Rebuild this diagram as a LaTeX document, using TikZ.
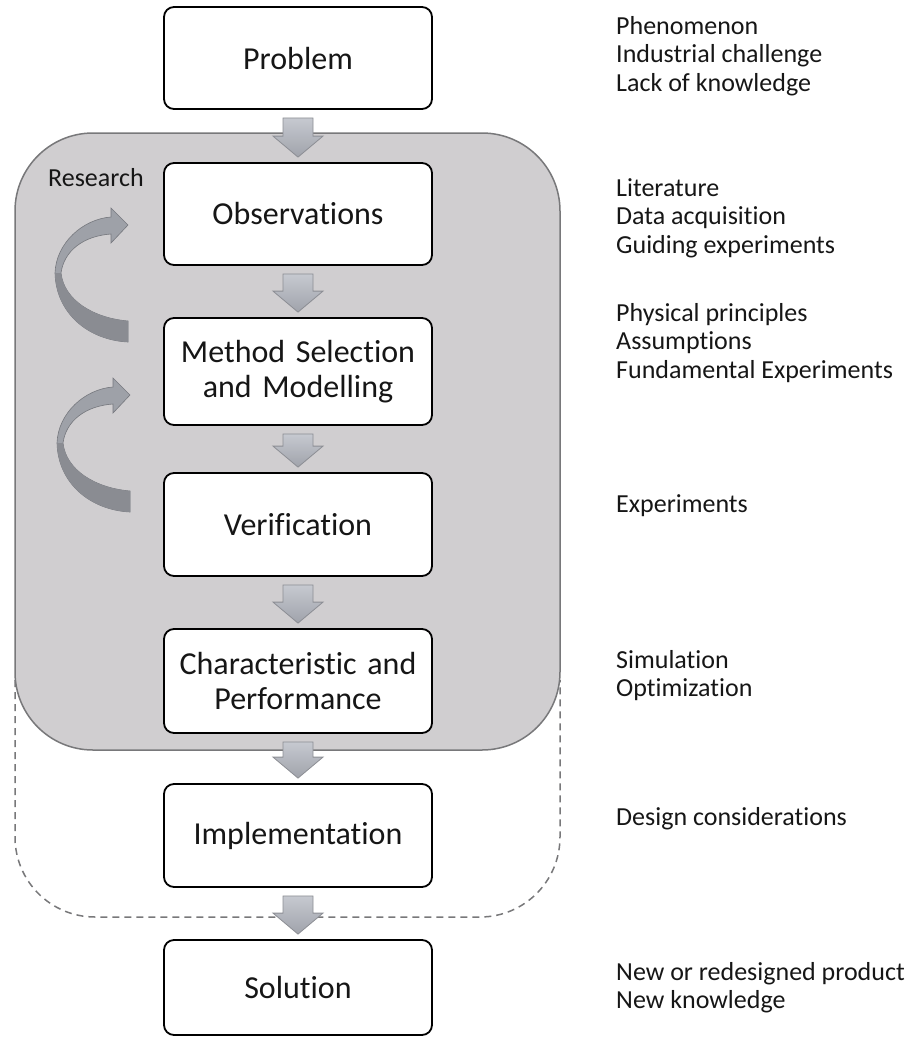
\documentclass[tikz,border=0pt]{standalone}
\usepackage{fontspec}
\setmainfont{Carlito}[Ligatures={NoCommon}]
\usetikzlibrary{calc}
\definecolor{regiongray}{RGB}{208,206,208}
\definecolor{regionedge}{RGB}{120,120,122}
\definecolor{arrowtop}{RGB}{198,201,208}
\definecolor{arrowbot}{RGB}{160,163,171}
\definecolor{arrowedge}{RGB}{140,142,148}
\definecolor{curvefill}{RGB}{158,161,168}
\definecolor{curvelow}{RGB}{138,140,146}
\definecolor{curveedge}{RGB}{118,120,126}
\definecolor{inktext}{RGB}{22,22,22}
\newcommand{\flowarrow}[2]{%
  \path[blockarrow] let \p1=(#1.south), \p2=(#2.north) in
  (\x1-15pt,\y1-8pt) -- (\x1+15pt,\y1-8pt) -- (\x1+15pt,\y2+26pt) --
  (\x1+25pt,\y2+26pt) -- (\x1,\y2+5pt) -- (\x1-25pt,\y2+26pt) --
  (\x1-15pt,\y2+26pt) -- cycle;}
\newcommand{\loopback}[1]{%
  \begin{scope}[shift={#1}]
    \path[curvearrow] (0,0) -- (-17,-17) -- (-17,-8)
      .. controls (-45,-6) and (-72,18) .. (-73,48)
      .. controls (-72,88) and (-40,115) .. (0,117) -- (0,96)
      .. controls (-35,93) and (-64,75) .. (-67,48)
      .. controls (-64,26) and (-45,11) .. (-17,9) -- (-17,18) -- cycle;
    \path[fill=curvelow] (-73,48) .. controls (-72,88) and (-40,115) .. (0,117)
      -- (0,96) .. controls (-35,93) and (-64,75) .. (-67,48) -- cycle;
  \end{scope}}
\begin{document}
\begin{tikzpicture}[x=1pt,y=-1pt,
  stepbox/.style={draw=black, line width=1.8pt, rounded corners=10pt, fill=white,
    minimum width=268pt, text width=262pt, align=center, text=inktext,
    font=\fontsize{32}{35}\selectfont, inner sep=0pt},
  note/.style={anchor=base west, font=\fontsize{26}{30}\selectfont, inner sep=0pt, text=inktext},
  blockarrow/.style={top color=arrowtop, bottom color=arrowbot, draw=arrowedge, line width=0.8pt},
  curvearrow/.style={fill=curvefill, draw=curveedge, line width=0.6pt}]
\useasboundingbox (0,0) rectangle (913,1042);
% regions
\draw[dash pattern=on 7pt off 5pt, draw=regionedge, line width=1.5pt, rounded corners=80pt]
  (15,680) -- (15,917) -- (560,917) -- (560,680);
\draw[fill=regiongray, draw=regionedge, line width=1.5pt, rounded corners=78pt]
  (15,133) rectangle (560,750);
% boxes
\node[stepbox, minimum height=102pt] (prob) at (298,58) {Problem};
\node[stepbox, minimum height=102pt] (obs) at (298,214) {Observations};
\node[stepbox, minimum height=107pt] (meth) at (298,371.5) {Method Selection\\and Modelling};
\node[stepbox, minimum height=103pt] (ver) at (298,524.5) {Verification};
\node[stepbox, minimum height=104pt] (char) at (298,681) {Characteristic and\\Performance};
\node[stepbox, minimum height=103pt] (impl) at (298,835.5) {Implementation};
\node[stepbox, minimum height=95pt] (sol) at (298,987.5) {Solution};
% arrows
\flowarrow{prob}{obs}
\flowarrow{obs}{meth}
\flowarrow{meth}{ver}
\flowarrow{ver}{char}
\flowarrow{char}{impl}
\flowarrow{impl}{sol}
\loopback{(128,225)}
\loopback{(130,395)}
% labels
\node[note] (res) at (48,186) {Research};
\node[note] (n1a) at (616,34) {Phenomenon};
\node[note] (n1b) at (616,62.5) {Industrial challenge};
\node[note] (n1c) at (616,91) {Lack of knowledge};
\node[note] (n2a) at (616,196) {Literature};
\node[note] (n2b) at (616,224.5) {Data acquisition};
\node[note] (n2c) at (616,253) {Guiding experiments};
\node[note] (n3a) at (616,321) {Physical principles};
\node[note] (n3b) at (616,349.5) {Assumptions};
\node[note] (n3c) at (616,378) {Fundamental Experiments};
\node[note] (n4) at (616,512) {Experiments};
\node[note] (n5a) at (616,668) {Simulation};
\node[note] (n5b) at (616,696.5) {Optimization};
\node[note] (n6) at (616,825) {Design considerations};
\node[note] (n7a) at (616,980) {New or redesigned product};
\node[note] (n7b) at (616,1008.5) {New knowledge};
\end{tikzpicture}
\end{document}
